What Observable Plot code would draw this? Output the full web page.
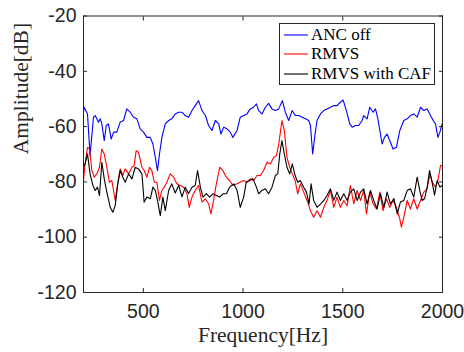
<!DOCTYPE html>
<html>
<head>
<meta charset="utf-8">
<script src="https://cdn.jsdelivr.net/npm/d3@7"></script>
<script src="https://cdn.jsdelivr.net/npm/@observablehq/plot@0.6"></script>
<style>
  html, body { margin: 0; padding: 0; background: #fff; }
  #wrap { position: relative; width: 464px; height: 352px; overflow: hidden; background: #fff; }
  .legend { position: absolute; left: 279px; top: 23px; width: 156px; height: 62px; box-sizing: border-box;
            border: 1px solid #262626; background: #fff; font-family: "Liberation Serif", "Times New Roman", serif;
            font-size: 17px; color: #000; }
  .legend .row { position: absolute; left: 0; height: 20px; display: flex; align-items: center; white-space: nowrap; }
  .legend svg { display: block; margin-left: 4px; margin-right: 3px; }
</style>
</head>
<body>
<div id="wrap"></div>
<script>
const seriesNames = ["ANC off", "RMVS", "RMVS with CAF"];
const xTicks = [500, 1000, 1500, 2000];
const yTicks = [-120, -100, -80, -60, -40, -20];

const ancOffFreq = [200,203,220,233,250,259,275,284,292,304,314,325,339,351,367,384,401,417,434,451,468,484,501,518,535,548,560,571,581,593,610,627,643,660,677,694,710,727,744,760,777,794,811,827,844,861,878,889,903,919,936,949,970,986,1003,1020,1036,1053,1067,1078,1095,1112,1128,1145,1162,1179,1197,1212,1229,1246,1262,1279,1296,1313,1329,1338,1349,1361,1371,1388,1405,1421,1438,1455,1471,1488,1502,1518,1535,1547,1563,1580,1597,1605,1622,1635,1652,1664,1676,1689,1697,1709,1722,1736,1752,1769,1786,1806,1823,1839,1856,1873,1890,1906,1923,1940,1953,1965,1977,1987,1998];
const ancOffAmp = [-54.8,-53.0,-55.4,-70.5,-56.6,-56.0,-58.4,-57.2,-59.0,-65.1,-59.6,-59.0,-64.5,-62.0,-62.0,-58.4,-57.8,-53.6,-54.8,-56.6,-57.2,-60.8,-62.0,-63.9,-63.9,-66.3,-71.1,-75.9,-69.9,-63.9,-59.0,-57.8,-57.2,-55.4,-54.8,-54.8,-56.0,-56.6,-54.2,-52.4,-50.6,-54.2,-56.0,-59.6,-61.4,-57.8,-59.0,-62.7,-60.2,-60.8,-62.0,-63.9,-61.4,-56.6,-56.0,-55.4,-53.6,-53.0,-51.8,-54.2,-55.4,-53.0,-51.6,-53.6,-54.2,-53.6,-50.6,-54.8,-57.8,-54.2,-56.0,-56.0,-56.6,-57.2,-57.8,-59.6,-69.9,-62.7,-57.8,-55.4,-54.2,-53.6,-53.0,-52.4,-52.4,-51.2,-50.4,-54.2,-59.0,-60.2,-59.6,-59.6,-57.8,-56.0,-57.2,-53.0,-54.8,-53.6,-57.2,-62.7,-66.3,-63.9,-62.7,-65.1,-68.1,-67.5,-61.4,-57.8,-57.2,-56.0,-55.4,-56.6,-53.0,-54.2,-53.6,-56.0,-57.8,-59.0,-63.9,-62.0,-59.0];

const rmvsFreq = [200,208,220,230,242,254,267,280,292,304,317,330,342,359,371,384,397,409,426,443,454,464,476,493,504,518,531,543,555,568,581,593,605,618,635,652,668,685,702,719,730,744,760,777,794,811,827,839,852,866,883,899,916,933,949,970,986,1003,1020,1036,1053,1070,1087,1103,1120,1137,1154,1167,1179,1195,1207,1220,1234,1247,1261,1274,1287,1304,1321,1338,1354,1371,1388,1405,1421,1438,1455,1471,1488,1505,1522,1538,1555,1572,1589,1605,1619,1635,1652,1669,1686,1702,1719,1736,1752,1769,1786,1794,1806,1823,1839,1856,1873,1890,1906,1923,1937,1948,1965,1977,1990,1998];
const rmvsAmp = [-79.5,-73.5,-67.5,-68.1,-75.9,-78.3,-77.1,-74.7,-68.1,-69.9,-74.7,-80.1,-79.5,-86.7,-80.7,-75.3,-77.7,-75.3,-77.1,-74.7,-74.1,-68.7,-69.3,-74.7,-75.9,-78.3,-74.7,-75.9,-80.1,-80.1,-86.7,-83.1,-81.9,-80.1,-77.1,-78.3,-80.7,-81.3,-81.9,-84.3,-89.2,-85.5,-83.1,-81.3,-87.3,-86.1,-87.9,-91.6,-86.7,-80.7,-74.7,-75.9,-78.3,-79.5,-81.3,-80.7,-80.1,-79.5,-80.1,-78.9,-79.5,-77.7,-77.7,-75.9,-72.9,-73.5,-71.1,-70.5,-66.3,-57.8,-61.4,-71.1,-74.7,-77.1,-79.5,-84.3,-80.7,-83.7,-86.7,-90.4,-92.8,-90.4,-92.8,-89.2,-86.7,-83.1,-89.2,-85.5,-89.2,-86.7,-88.6,-81.3,-87.9,-83.1,-86.7,-83.1,-91.6,-83.7,-87.9,-89.8,-83.7,-90.4,-86.1,-89.2,-86.7,-89.2,-93.4,-96.4,-92.8,-86.7,-89.8,-86.1,-89.8,-86.7,-83.7,-82.5,-77.1,-80.1,-81.9,-79.5,-74.1,-74.1];

const cafFreq = [200,208,220,233,247,259,270,280,292,304,317,334,347,359,371,384,397,409,426,443,459,476,493,504,518,535,548,560,571,585,598,610,627,643,660,677,694,710,727,744,760,772,786,799,816,832,849,866,883,899,916,933,953,970,986,1003,1016,1033,1050,1067,1078,1095,1112,1128,1145,1162,1174,1184,1195,1207,1220,1234,1247,1261,1274,1287,1304,1318,1331,1341,1354,1371,1388,1405,1421,1438,1455,1471,1488,1505,1522,1538,1555,1572,1589,1605,1622,1639,1655,1672,1689,1706,1722,1739,1756,1773,1789,1806,1823,1839,1856,1873,1886,1898,1910,1923,1935,1948,1960,1973,1987,1998];
const cafAmp = [-74.7,-73.5,-69.9,-77.1,-81.3,-83.1,-81.9,-84.9,-72.9,-78.9,-83.7,-89.2,-91.0,-88.6,-81.3,-75.9,-78.3,-80.1,-77.1,-78.9,-74.7,-75.3,-77.1,-87.3,-85.5,-86.1,-81.9,-83.1,-86.7,-92.2,-85.5,-90.4,-83.1,-80.7,-84.0,-81.3,-85.4,-81.9,-84.2,-81.9,-81.3,-75.9,-81.9,-85.5,-84.2,-85.5,-84.3,-84.9,-85.5,-84.3,-84.3,-81.9,-80.7,-83.1,-89.2,-85.5,-80.1,-79.5,-78.9,-81.9,-84.3,-83.1,-82.5,-84.3,-81.9,-77.7,-77.1,-69.9,-65.1,-69.9,-74.7,-77.1,-73.5,-77.7,-80.1,-79.5,-81.9,-83.7,-88.0,-80.7,-86.7,-89.2,-88.0,-86.7,-84.9,-82.5,-86.7,-83.7,-86.7,-84.3,-86.7,-83.7,-82.5,-86.7,-83.7,-82.5,-88.0,-83.1,-86.7,-89.8,-84.3,-89.2,-83.7,-88.0,-86.0,-91.6,-87.3,-86.7,-83.1,-82.5,-85.5,-78.3,-83.1,-86.7,-86.1,-81.9,-75.9,-80.1,-84.8,-79.5,-81.9,-81.3];

const colors = ["#0000ff", "#ff0000", "#000000"];
const toRows = (fs, as) => fs.map((f, i) => ({f, a: as[i]}));
const series = [toRows(ancOffFreq, ancOffAmp), toRows(rmvsFreq, rmvsAmp), toRows(cafFreq, cafAmp)];

const axisColor = "#262626";
const fmt = d => String(d);
const plot = Plot.plot({
  width: 464,
  height: 352,
  marginLeft: 83,
  marginRight: 22,
  marginTop: 15.5,
  marginBottom: 60,
  x: {domain: [200, 2000]},
  y: {domain: [-120, -20]},
  style: {fontFamily: "'Liberation Sans', Arial, Helvetica, sans-serif", fontSize: "19.5px", color: axisColor, background: "#fff", overflow: "visible"},
  marks: [
    ...series.map((d, k) => Plot.line(d, {x: "f", y: "a", stroke: colors[k], strokeWidth: 1.1})),
    Plot.frame({stroke: axisColor, strokeWidth: 1}),
    Plot.axisX({ticks: xTicks, anchor: "bottom", tickSize: -4, tickPadding: 16, tickFormat: fmt, label: null, stroke: axisColor}),
    Plot.axisX({ticks: xTicks, anchor: "top", tickSize: -4, tickFormat: () => "", label: null, stroke: axisColor}),
    Plot.axisY({ticks: yTicks, anchor: "left", tickSize: -4, tickPadding: 11, tickFormat: fmt, label: null, stroke: axisColor}),
    Plot.axisY({ticks: yTicks, anchor: "right", tickSize: -4, tickFormat: () => "", label: null, stroke: axisColor}),
    Plot.text(["Frequency[Hz]"], {frameAnchor: "bottom", dy: 49, fontFamily: "'Liberation Serif', 'Times New Roman', serif", fontSize: 21.5, fill: axisColor}),
    Plot.text(["Amplitude[dB]"], {frameAnchor: "left", dx: -62, rotate: -90, fontFamily: "'Liberation Serif', 'Times New Roman', serif", fontSize: 21.5, fill: axisColor})
  ]
});
const wrap = document.getElementById("wrap");
wrap.appendChild(plot);

const legend = document.createElement("div");
legend.className = "legend";
const rowTops = [1, 20.3, 39.7];
const svgNS = "http://www.w3.org/2000/svg";
seriesNames.forEach((name, k) => {
  const row = document.createElement("div");
  row.className = "row";
  row.style.top = rowTops[k] + "px";
  const sw = document.createElementNS(svgNS, "svg");
  sw.setAttribute("width", "24");
  sw.setAttribute("height", "4");
  const ln = document.createElementNS(svgNS, "line");
  ln.setAttribute("x1", "0"); ln.setAttribute("x2", "24");
  ln.setAttribute("y1", "2"); ln.setAttribute("y2", "2");
  ln.setAttribute("stroke", colors[k]);
  ln.setAttribute("stroke-width", "1.1");
  sw.appendChild(ln);
  const tx = document.createElement("span");
  tx.textContent = name;
  row.appendChild(sw);
  row.appendChild(tx);
  legend.appendChild(row);
});
wrap.appendChild(legend);
</script>
</body>
</html>
